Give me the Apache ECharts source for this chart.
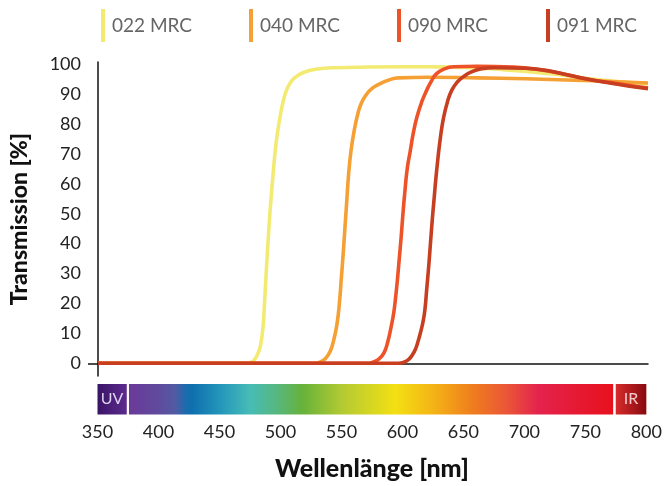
<!DOCTYPE html>
<html><head><meta charset="utf-8">
<script src="https://cdn.jsdelivr.net/npm/echarts@6/dist/echarts.min.js"></script>
<style>html,body{margin:0;padding:0;background:#fff}#c{width:665px;height:486px}</style>
</head><body><div id="c"></div>
<script>
const seriesNames = ['022 MRC', '040 MRC', '090 MRC', '091 MRC'];
const yTickValues = [0, 10, 20, 30, 40, 50, 60, 70, 80, 90, 100];
const xTickInterval = 50;

const wl022 = [350, 472, 476, 479, 481, 483, 485, 486.5, 488, 489.5, 491, 493, 495, 497, 499, 501.5, 504, 507, 511, 518, 528, 545, 600, 640, 680, 720, 750, 775, 800];
const t022  = [0, 0, 0.5, 1.8, 3.5, 6, 12, 22, 33, 43, 52, 62, 71, 77.5, 82.5, 87.5, 91, 93.5, 95.5, 97.2, 98.3, 98.8, 99.1, 99, 98.2, 96.8, 95.2, 94.2, 93.4];

const wl040 = [350, 528, 532, 536, 540, 543, 545.5, 547.5, 549, 550.5, 552, 553.5, 555, 557, 559.5, 562, 565, 569, 574, 581, 588, 596, 620, 660, 700, 740, 770, 800];
const t040  = [0, 0, 0.5, 1.5, 4, 8, 13, 20, 28, 36, 45, 54, 63, 71, 77.5, 82.4, 86.5, 89.5, 91.8, 93.5, 94.7, 95.4, 95.6, 95.4, 95.1, 94.6, 94.2, 93.7];

const wl090 = [350, 570, 575, 580, 584, 587, 590, 592, 593.5, 595, 596.5, 598, 599.5, 601, 603, 605.5, 608, 611, 615, 619, 623, 627, 633, 641, 660, 690, 710, 730, 750, 770, 785, 800];
const t090  = [0, 0, 0.4, 1.5, 3.5, 7, 12.5, 17, 22, 28, 35, 42, 50, 57, 65, 71, 77, 82.4, 87.5, 91.3, 94.5, 96.8, 98.3, 99.1, 99.3, 99, 98.2, 96.8, 95, 93.8, 92.8, 92];

const wl091 = [350, 596, 600, 604, 607.5, 610, 612, 614, 616, 617.5, 619, 620.5, 622, 623.5, 625, 626.5, 628, 630, 632.7, 636, 639.5, 644, 649, 655, 663, 675, 700, 715, 730, 750, 770, 785, 800];
const t091  = [0, 0, 0.3, 1.2, 3, 5, 7.5, 10.5, 14, 18, 25, 32, 40, 48, 55, 62, 68, 75, 82, 87.5, 91.3, 94, 95.8, 97.3, 98.4, 98.8, 98.6, 98, 96.8, 95, 93.6, 92.6, 91.8];

const bandStart = [350, 375.8, 774.9];
const bandEnd   = [374, 772.8, 800];
const bandLabel = ['UV', '', 'IR'];

const colors = ['#f3ea72', '#f5a034', '#ee5229', '#c73e20'];
const FONT = 'Lato, "Open Sans", sans-serif';

const zip = (a, b) => a.map((v, i) => [v, b[i]]);
const lineData = [zip(wl022, t022), zip(wl040, t040), zip(wl090, t090), zip(wl091, t091)];

const G = echarts.graphic;
const fills = [
  new G.LinearGradient(0, 0, 1, 0, [{offset: 0, color: '#3a1467'}, {offset: 1, color: '#5c2b8d'}]),
  new G.LinearGradient(0, 0, 1, 0, [
    {offset: 0, color: '#6a3a98'}, {offset: 0.06, color: '#604a9e'}, {offset: 0.095, color: '#535aa2'},
    {offset: 0.118, color: '#1a6cae'}, {offset: 0.13, color: '#0f6fae'}, {offset: 0.19, color: '#2497ba'},
    {offset: 0.25, color: '#47bcb6'}, {offset: 0.31, color: '#58b77a'}, {offset: 0.358, color: '#66b23a'},
    {offset: 0.44, color: '#b3ca33'}, {offset: 0.55, color: '#f3e013'}, {offset: 0.63, color: '#f4b316'},
    {offset: 0.71, color: '#ef7d1e'}, {offset: 0.78, color: '#ea5637'}, {offset: 0.845, color: '#e4234d'},
    {offset: 1, color: '#e8101c'}
  ]),
  new G.LinearGradient(0, 0, 1, 0, [{offset: 0, color: '#d62b2c'}, {offset: 1, color: '#870a10'}])
];
const bandTextColor = ['#ddd3ee', '#ffffff', '#f4cccc'];

const legendLefts = [101, 249, 397, 546];

const chart = echarts.init(document.getElementById('c'), null, {renderer: 'canvas'});
chart.setOption({
  animation: false,
  textStyle: {fontFamily: FONT},
  legend: seriesNames.map((n, i) => ({
    data: [n], left: legendLefts[i], top: 9, padding: 0,
    icon: 'rect', itemWidth: 4, itemHeight: 33,
    textStyle: {fontSize: 19, color: '#666', fontFamily: FONT, padding: [0, 0, 0, 2]},
    selectedMode: false
  })),
  grid: [
    {left: 97.5, right: 17, top: 62, bottom: 110},
    {left: 97.5, right: 17, top: 384, height: 30.5}
  ],
  xAxis: [
    {type: 'value', gridIndex: 0, min: 350, max: 800, interval: xTickInterval,
     axisLine: {show: true, onZero: true, lineStyle: {color: '#111', width: 1.5}},
     axisTick: {show: false}, axisLabel: {show: false}, splitLine: {show: false}},
    {type: 'value', gridIndex: 1, min: 350, max: 800, interval: xTickInterval,
     axisLine: {show: false}, axisTick: {show: false}, splitLine: {show: false},
     axisLabel: {fontSize: 18, color: '#222', margin: 9, fontFamily: FONT},
     name: 'Wellenlänge [nm]', nameLocation: 'middle', nameGap: 42,
     nameTextStyle: {fontSize: 25, fontWeight: 900, color: '#111', fontFamily: FONT}}
  ],
  yAxis: [
    {type: 'value', gridIndex: 0, min: -4.25, max: 100.7,
     axisLine: {show: true, onZero: false, lineStyle: {color: '#111', width: 1.5}},
     axisTick: {show: true, customValues: [0], length: 10, lineStyle: {color: '#111', width: 1.5}},
     axisLabel: {customValues: yTickValues, fontSize: 18, color: '#222', margin: 17, fontFamily: FONT},
     splitLine: {show: false},
     name: 'Transmission [%]', nameLocation: 'middle', nameGap: 67, nameRotate: 90,
     nameTextStyle: {fontSize: 23, fontWeight: 900, color: '#111', fontFamily: FONT}},
    {type: 'value', gridIndex: 1, min: 0, max: 1, show: false}
  ],
  series: seriesNames.map((n, i) => ({
    name: n, type: 'line', xAxisIndex: 0, yAxisIndex: 0,
    data: lineData[i], showSymbol: false, symbol: 'none',
    smooth: 0.5,
    color: colors[i], lineStyle: {width: 3.6, color: colors[i]},
    emphasis: {disabled: true}, z: 2 + i
  })).concat([{
    type: 'custom', xAxisIndex: 1, yAxisIndex: 1, silent: true,
    data: bandStart.map((s, i) => [s, bandEnd[i], i]),
    renderItem: (params, api) => {
      const idx = params.dataIndex;
      const p0 = api.coord([api.value(0), 1]);
      const p1 = api.coord([api.value(1), 0]);
      const w = p1[0] - p0[0], h = p1[1] - p0[1];
      const children = [{type: 'rect', shape: {x: p0[0], y: p0[1], width: w, height: h}, style: {fill: fills[idx]}}];
      if (bandLabel[idx]) {
        children.push({type: 'text', style: {text: bandLabel[idx], x: p0[0] + w / 2, y: p0[1] + h / 2,
          align: 'center', verticalAlign: 'middle', fontSize: 16, fontFamily: FONT, fill: bandTextColor[idx]}});
      }
      return {type: 'group', children: children};
    }
  }])
});
</script></body></html>
